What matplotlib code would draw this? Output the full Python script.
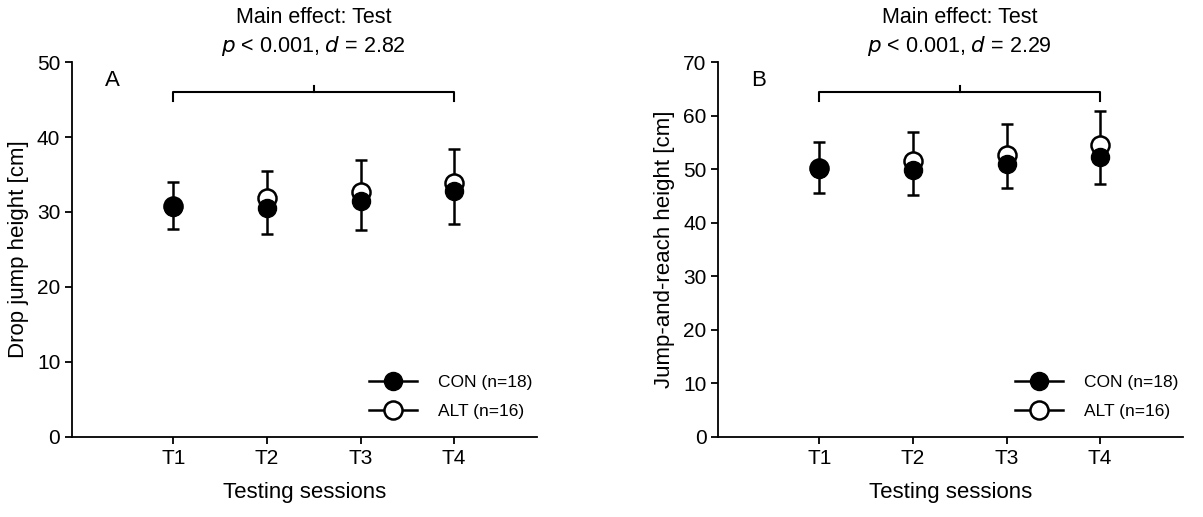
import matplotlib.pyplot as plt
from matplotlib.lines import Line2D

plt.rcParams['font.family'] = ['Liberation Sans', 'DejaVu Sans']

sesiones = ['T1', 'T2', 'T3', 'T4']
x = [1, 2, 3, 4]

# Panel A - Drop jump height [cm]
con_a = [30.7, 30.5, 31.4, 32.8]
con_a_sd = [3.0, 3.4, 3.8, 4.4]
alt_a = [30.8, 31.9, 32.7, 33.8]
alt_a_sd = [3.2, 3.6, 4.2, 4.6]

# Panel B - Jump-and-reach height [cm]
con_b = [50.1, 49.8, 51.0, 52.2]
con_b_sd = [4.6, 4.6, 4.6, 5.0]
alt_b = [50.3, 51.6, 52.7, 54.6]
alt_b_sd = [4.7, 5.4, 5.7, 6.3]


def graficar(ax, con, con_sd, alt, alt_sd, ymax, ylabel, letra, d, y_llave):
    # barras de error: ALT hacia arriba, CON hacia abajo
    ax.errorbar(x, alt, yerr=[[0] * 4, alt_sd], fmt='none', ecolor='black',
                elinewidth=1.8, capsize=4, capthick=1.8, zorder=2)
    ax.errorbar(x, con, yerr=[con_sd, [0] * 4], fmt='none', ecolor='black',
                elinewidth=1.8, capsize=4, capthick=1.8, zorder=2)
    ax.plot(x, alt, 'o', ms=13, mfc='white', mec='black', mew=1.8, ls='none', zorder=3)
    ax.plot(x, con, 'o', ms=13, mfc='black', mec='black', ls='none', zorder=4)

    ax.set_xlim(-0.08, 4.88)
    ax.set_ylim(0, ymax)
    ax.set_yticks(range(0, ymax + 1, 10))
    ax.set_xticks(x)
    ax.set_xticklabels(sesiones)
    ax.tick_params(labelsize=15, width=1.3, length=5, direction='out')
    ax.spines['top'].set_visible(False)
    ax.spines['right'].set_visible(False)
    for s in ['left', 'bottom']:
        ax.spines[s].set_linewidth(1.3)
    ax.set_xlabel('Testing sessions', fontsize=16, labelpad=10)
    ax.set_ylabel(ylabel, fontsize=16, labelpad=6)

    ax.text(0.07, 0.95, letra, transform=ax.transAxes, fontsize=16, va='center', ha='left')

    # llave del efecto principal
    alto = ymax * 0.025
    ax.plot([1, 1, 4, 4], [y_llave - alto, y_llave, y_llave, y_llave - alto],
            color='black', lw=1.5, clip_on=False)
    ax.plot([2.5, 2.5], [y_llave, y_llave + alto * 0.6], color='black', lw=1.5, clip_on=False)
    ax.text(2.5, 1.043, f'$\\it{{p}}$ < 0.001, $\\it{{d}}$ = {d}', transform=ax.get_xaxis_transform(),
            ha='center', va='center', fontsize=15.5)
    ax.text(2.5, 1.12, 'Main effect: Test', transform=ax.get_xaxis_transform(),
            ha='center', va='center', fontsize=15.5)

    handles = [
        Line2D([], [], color='black', lw=1.8, marker='o', ms=13, mfc='black', mec='black'),
        Line2D([], [], color='black', lw=1.8, marker='o', ms=13, mfc='white', mec='black', mew=1.8),
    ]
    ax.legend(handles, ['CON (n=18)', 'ALT (n=16)'], loc='lower right',
              bbox_to_anchor=(1.025, 0.005), frameon=False, fontsize=12.5,
              handlelength=2.8, handletextpad=1.2, labelspacing=0.8)


fig = plt.figure(figsize=(12.03, 5.17), dpi=100)
ax1 = fig.add_axes([0.06, 0.155, 0.386, 0.725])
ax2 = fig.add_axes([0.597, 0.155, 0.386, 0.725])

graficar(ax1, con_a, con_a_sd, alt_a, alt_a_sd, 50, 'Drop jump height [cm]', 'A', '2.82', 46.0)
graficar(ax2, con_b, con_b_sd, alt_b, alt_b_sd, 70, 'Jump-and-reach height [cm]', 'B', '2.29', 64.4)

fig.savefig('out.png', dpi=100)
